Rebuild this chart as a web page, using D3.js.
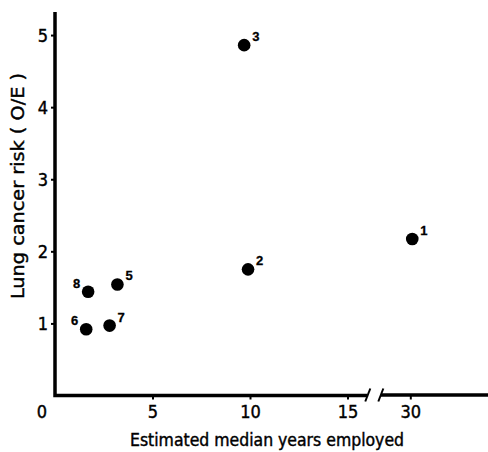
<!DOCTYPE html>
<html>
<head>
<meta charset="utf-8">
<script src="https://cdn.jsdelivr.net/npm/d3@7"></script>
<style>
	body { margin: 0; background: #fff; }
	text { font-family: "DejaVu Sans Condensed", "Liberation Sans", sans-serif; fill: #000; stroke: #000; stroke-width: 0.4px; }
	.tick text { font-size: 18px; }
	.tick line { stroke: #000; stroke-width: 2px; }
	.axisline { stroke: #000; stroke-width: 3.5px; fill: none; }
	.axislabel { font-size: 17px; }
	.ptlabel { font-family: "Liberation Sans", Arial, sans-serif; font-size: 13px; font-weight: bold; stroke-width: 0.3px; }
</style>
</head>
<body>
<svg id="graph"></svg>
<script>
// study groups
var groups = ["1", "2", "3", "5", "6", "7", "8"],
	years = [30.1, 9.9, 9.7, 3.2, 1.6, 2.8, 1.7],
	risk = [2.17, 1.75, 4.86, 1.54, 0.92, 0.97, 1.44],
	labelSide = ["r", "r", "r", "r", "l", "r", "l"];

var xTicks = [5, 10, 15, 30],
	yTicks = [1, 2, 3, 4, 5];

document.addEventListener("DOMContentLoaded", function(event) {
	var width = 488, height = 452,
		graph = d3.select("#graph").attr("width", width).attr("height", height),
		g = graph.append("g");

	// broken x axis: 0-16 then 28.5-35
	var x = d3.scaleLinear().domain([0, 16, 28.5, 35]).range([55, 367, 381, 508]),
		y = d3.scaleLinear().domain([0, 5.32]).range([395.5, 12]);

	var xAxis = d3.axisBottom(x).tickValues(xTicks).tickSize(4).tickPadding(4).tickFormat(d3.format("")),
		yAxis = d3.axisLeft(y).tickValues(yTicks).tickSize(4).tickPadding(3).tickFormat(d3.format(""));

	var xg = g.append("g")
		.attr("class", "axis xaxis")
		.attr("transform", "translate(0," + y(0) + ")")
		.call(xAxis);
	xg.select(".domain").remove();
	xg.selectAll(".tick text").attr("dy", "0.78em");

	var yg = g.append("g")
		.attr("class", "axis yaxis")
		.attr("transform", "translate(" + x(0) + ",0)")
		.call(yAxis);
	yg.select(".domain").remove();
	yg.selectAll(".tick text").attr("dy", "0.36em");

	// origin label sits left of the corner
	g.append("text")
		.attr("x", x(0) - 13)
		.attr("y", y(0) + 8)
		.attr("dy", "0.78em")
		.attr("text-anchor", "middle")
		.style("font-size", "18px")
		.text("0");

	// axis lines with the break
	g.append("path")
		.attr("class", "axisline")
		.attr("d", "M" + x(0) + "," + y(5.32) + "V" + y(0) + "H" + x(16));
	g.append("path")
		.attr("class", "axisline")
		.attr("d", "M" + x(28.5) + "," + (y(0) - 0.5) + "H" + width);
	[16.25, 27.9].forEach(function(v) {
		g.append("line")
			.attr("class", "axisline")
			.style("stroke-width", "2px")
			.attr("x1", x(v) - 2).attr("y1", y(0) + 6)
			.attr("x2", x(v) + 3).attr("y2", y(0) - 7);
	});

	g.append("text")
		.attr("class", "axislabel")
		.attr("x", 267)
		.attr("y", 446)
		.attr("text-anchor", "middle")
		.attr("textLength", 274)
		.attr("lengthAdjust", "spacingAndGlyphs")
		.text("Estimated median years employed");

	g.append("text")
		.attr("class", "axislabel")
		.attr("transform", "translate(24,186) rotate(-90)")
		.attr("text-anchor", "middle")
		.attr("textLength", 226)
		.attr("lengthAdjust", "spacingAndGlyphs")
		.text("Lung cancer risk ( O/E )");

	var pts = g.append("g").attr("class", "points")
		.selectAll("g")
		.data(groups)
		.enter().append("g")
			.attr("transform", function(d, i) { return "translate(" + x(years[i]) + "," + y(risk[i]) + ")"; });

	pts.append("circle")
		.attr("r", 6.3)
		.attr("fill", "#000");

	pts.append("text")
		.attr("class", "ptlabel")
		.attr("x", function(d, i) { return labelSide[i] === "r" ? 8 : -8; })
		.attr("y", -4)
		.attr("text-anchor", function(d, i) { return labelSide[i] === "r" ? "start" : "end"; })
		.text(function(d) { return d; });
});
</script>
</body>
</html>
